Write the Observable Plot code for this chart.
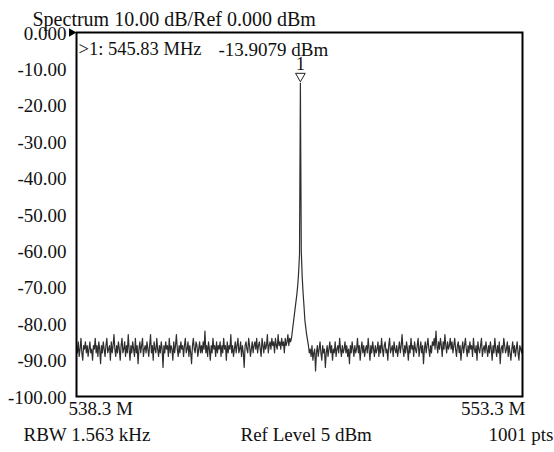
<!DOCTYPE html>
<html>
<head>
<meta charset="utf-8">
<script src="https://cdn.jsdelivr.net/npm/d3@7"></script>
<script src="https://cdn.jsdelivr.net/npm/@observablehq/plot@0.6"></script>
<style>
  body { margin: 0; background: #fff; }
  svg, svg text { font-family: "Liberation Serif", "DejaVu Serif", serif !important; font-variant: normal !important; }
</style>
</head>
<body>
<div id="chart"></div>
<script>
// Sweep definition
const startMHz = 538.3;
const stopMHz = 553.3;
const yTicks = [0, -10, -20, -30, -40, -50, -60, -70, -80, -90, -100];
const yTickLabels = ["0.000", "-10.00", "-20.00", "-30.00", "-40.00", "-50.00", "-60.00", "-70.00", "-80.00", "-90.00", "-100.00"];
const xTickLabels = ["538.3 M", "553.3 M"];
const titleText = "Spectrum 10.00 dB/Ref 0.000 dBm";
const markerFreqText = ">1: 545.83 MHz";
const markerLevelText = "-13.9079 dBm";
const markerFreq = 545.83;
const markerLevel = -13.9079;
const footer = ["RBW 1.563 kHz", "Ref Level 5 dBm", "1001 pts"];

// Trace (every other of the 1001 points)
const noiseLeft = [
-86,-88,-85,-89,-87,-84,-88,-90,-86,-87,-85,-88,-86,-89,-87,-85,-88,-87,-90,-86,
-87,-84,-88,-86,-89,-85,-87,-91,-86,-88,-85,-87,-89,-86,-84,-88,-87,-86,-90,-85,
-88,-86,-83,-87,-89,-86,-88,-85,-87,-90,-86,-84,-88,-87,-85,-89,-86,-88,-83,-87,
-90,-86,-88,-85,-87,-89,-84,-88,-86,-91,-87,-85,-88,-86,-84,-89,-87,-86,-88,-85,
-87,-89,-86,-83,-88,-86,-90,-85,-87,-88,-84,-87,-89,-86,-88,-85,-87,-92,-86,-88,
-85,-87,-86,-89,-84,-88,-86,-87,-90,-85,-88,-86,-83,-87,-89,-86,-88,-85,-87,-86,
-89,-86,-84,-88,-87,-85,-89,-86,-88,-91,-86,-84,-87,-88,-85,-86,-89,-87,-85,-88,
-86,-88,-85,-87,-82,-88,-86,-89,-85,-87,-90,-86,-88,-84,-87,-86,-89,-85,-88,-86,
-87,-85,-89,-86,-88,-84,-87,-86,-90,-85,-88,-86,-87,-83,-88,-86,-89,-87,-85,-88,
-86,-84,-88,-87,-85,-89,-86,-88,-92,-86,-85,-87,-88,-84,-86,-89,-87,-85,-88,-86,
-85,-87,-84,-88,-86,-85,-87,-89,-84,-86,-88,-85,-87,-86,-83,-88,-86,-85,-87,-84,
-86,-85,-88,-84,-86,-87,-83,-86,-85,-87,-84,-86,-85,-88,-84,-86,-85,-83,-86,-84,
-85,-84
];
const peakProfile = [
-82,-80,-78,-76,-74,-72,-69.5,-66,-61,-13.9079,-60,-67,-71.5,-75,-79,-81,-83,-84.5
];
const noiseRight = [
-86,-88,-87,-89,-86,-90,-88,-87,-93,-88,-86,-89,-87,-85,-88,-90,-86,-88,-87,-92,
-88,-86,-89,-87,-85,-88,-86,-90,-87,-88,-85,-89,-87,-86,-88,-84,-87,-89,-86,-88,
-87,-85,-88,-86,-89,-87,-91,-86,-88,-85,-87,-89,-86,-88,-87,-84,-88,-86,-90,-87,
-85,-88,-86,-89,-87,-86,-88,-84,-87,-90,-86,-88,-85,-87,-89,-86,-88,-87,-85,-89,
-86,-88,-84,-87,-89,-86,-85,-88,-87,-90,-86,-84,-88,-87,-86,-89,-85,-87,-88,-86,
-89,-87,-85,-88,-86,-83,-87,-89,-86,-88,-85,-87,-90,-86,-88,-84,-87,-86,-89,-85,
-87,-88,-86,-84,-89,-87,-85,-88,-86,-91,-87,-85,-88,-86,-84,-87,-89,-86,-88,-85,
-86,-84,-87,-82,-86,-88,-85,-87,-84,-86,-89,-85,-87,-83,-86,-88,-85,-87,-86,-84,
-87,-85,-88,-86,-84,-87,-89,-86,-85,-88,-86,-90,-87,-85,-88,-86,-84,-87,-89,-86,
-88,-85,-87,-86,-89,-84,-87,-88,-86,-90,-85,-87,-88,-86,-84,-89,-87,-86,-88,-85,
-87,-89,-86,-88,-85,-87,-90,-86,-88,-84,-87,-89,-86,-88,-85,-91,-87,-86,-88,-84,
-86,-88,-87,-85,-89,-86,-88,-90,-87,-85,-88,-86,-89,-87,-85,-88,-90,-86,-87,-88,
-86
];

const levels = [...noiseLeft, ...peakProfile, ...noiseRight];
const n = levels.length;
const trace = levels.map((v, i) => ({f: startMHz + (stopMHz - startMHz) * i / (n - 1), v}));
const yTickData = yTicks.map((v, i) => ({v, t: yTickLabels[i]}));

const fsTick = 19;
const fsText = 19;
const chart = Plot.plot({
  width: 554,
  height: 452,
  marginLeft: 76,
  marginRight: 32,
  marginTop: 32,
  marginBottom: 56,
  style: {fontFamily: '"Liberation Serif", serif', fontSize: fsTick + "px", color: "#111", background: "#fff"},
  x: {domain: [startMHz, stopMHz], axis: null},
  y: {domain: [-100, 0], axis: null},
  marks: [
    Plot.line(trace, {x: "f", y: "v", stroke: "#2e2e2e", strokeWidth: 1.2}),
    Plot.frame({stroke: "#000", strokeWidth: 2}),
    Plot.text(yTickData, {x: () => startMHz, y: "v", text: "t", textAnchor: "end", dx: -10, dy: 1, fontSize: fsTick, fill: "#111"}),
    Plot.dot([0], {x: () => startMHz, y: d => d, symbol: "triangle", rotate: 90, r: 3.2, fill: "#000", dx: -5}),
    Plot.text([{f: startMHz, t: xTickLabels[0]}], {x: "f", y: () => -100, text: "t", textAnchor: "start", dx: -8, dy: 12, fontSize: fsText}),
    Plot.text([{f: stopMHz, t: xTickLabels[1]}], {x: "f", y: () => -100, text: "t", textAnchor: "end", dx: 3, dy: 12, fontSize: fsText}),
    Plot.text([titleText], {frameAnchor: "top-left", text: d => d, dx: -44, dy: -21, textAnchor: "start", fontSize: 20}),
    Plot.text([markerFreqText], {frameAnchor: "top-left", text: d => d, dx: 2, dy: 9, textAnchor: "start", fontSize: 18.5}),
    Plot.text([markerLevelText], {frameAnchor: "top-left", text: d => d, dx: 142, dy: 10, textAnchor: "start", fontSize: 19}),
    Plot.dot([{f: markerFreq, v: markerLevel}], {x: "f", y: "v", symbol: "triangle", rotate: 180, r: 3.6, stroke: "#222", fill: "#fff", strokeWidth: 1, dy: -7}),
    Plot.text([{f: markerFreq, v: markerLevel}], {x: "f", y: "v", text: () => "1", fontSize: 18, dy: -19}),
    Plot.text([footer[0]], {frameAnchor: "bottom-left", text: d => d, dx: -53, dy: 44, textAnchor: "start", fontSize: fsText}),
    Plot.text([footer[1]], {frameAnchor: "bottom-left", text: d => d, dx: 164, dy: 44, textAnchor: "start", fontSize: fsText}),
    Plot.text([footer[2]], {frameAnchor: "bottom-right", text: d => d, dx: 31, dy: 44, textAnchor: "end", fontSize: fsText})
  ]
});
document.getElementById("chart").appendChild(chart);
</script>
</body>
</html>
